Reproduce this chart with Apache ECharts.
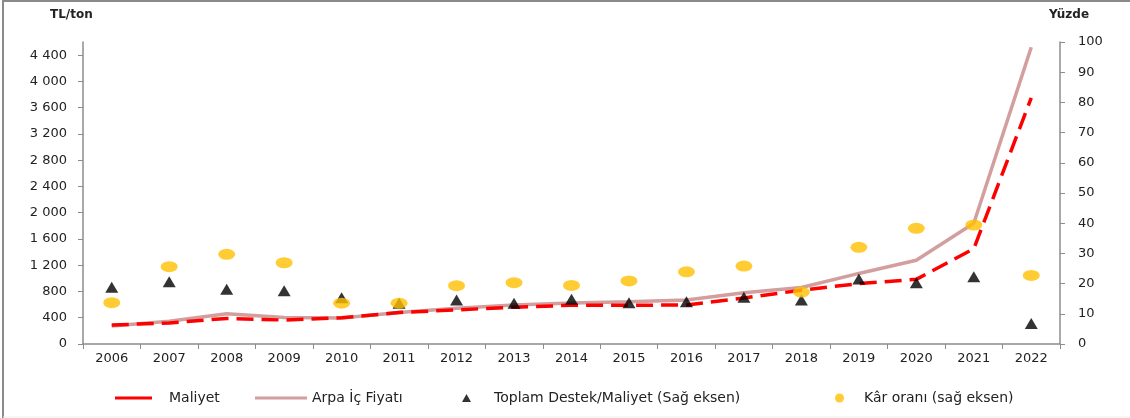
<!DOCTYPE html>
<html>
<head>
<meta charset="utf-8">
<script src="https://cdn.jsdelivr.net/npm/echarts@6/dist/echarts.min.js"></script>
<style>
  html, body { margin: 0; padding: 0; background: #fff; }
  #chart { width: 1130px; height: 418px; }
</style>
</head>
<body>
<div id="chart"></div>
<script>
const years = ['2006','2007','2008','2009','2010','2011','2012','2013','2014','2015','2016','2017','2018','2019','2020','2021','2022'];
// TL/ton (sol eksen)
const maliyet = [290, 320, 390, 365, 400, 480, 520, 560, 590, 590, 595, 700, 820, 920, 985, 1450, 3750];
const arpaIcFiyati = [275, 345, 460, 405, 395, 480, 545, 595, 625, 645, 670, 780, 860, 1075, 1275, 1840, 4520];
// yüzde (sağ eksen)
const destekMaliyet = [18.8, 20.6, 18.1, 17.6, 15.3, 13.5, 14.6, 13.5, 14.8, 13.7, 14.0, 15.5, 14.6, 21.5, 20.3, 22.3, 6.8];
const karOrani = [13.7, 25.6, 29.7, 26.9, 13.5, 13.5, 19.3, 20.3, 19.4, 20.9, 23.9, 25.8, 17.2, 32.0, 38.3, 39.4, 22.7];

const axisColor = '#8c8c8c';
const labelFont = { fontFamily: 'DejaVu Sans', fontSize: 13, color: '#222' };
const legendFont = { fontFamily: 'DejaVu Sans', fontSize: 14, color: '#222', lineHeight: 16 };

function spaced(v) {
  return String(v).replace(/\B(?=(\d{3})+(?!\d))/g, ' ');
}

function legendAt(left, name, icon, w, h, pad) {
  return {
    left: left, top: 385,
    data: [{ name: name, icon: icon }],
    itemWidth: w, itemHeight: h,
    textStyle: Object.assign({ padding: [0, 0, 0, pad] }, legendFont),
    selectedMode: false
  };
}

const chart = echarts.init(document.getElementById('chart'), null, { renderer: 'canvas' });

chart.setOption({
  animation: false,
  backgroundColor: '#fff',
  grid: { left: 83, right: 70, top: 42, bottom: 74 },
  graphic: [
    { type: 'line', shape: { x1: 3, y1: 0, x2: 3, y2: 418 }, style: { stroke: '#8a8a8a', lineWidth: 2 } },
    { type: 'line', shape: { x1: 3, y1: 1, x2: 1130, y2: 1 }, style: { stroke: '#8a8a8a', lineWidth: 2 } },
    { type: 'line', shape: { x1: 3, y1: 417, x2: 1130, y2: 417 }, style: { stroke: '#eeeeee', lineWidth: 1 } },
    { type: 'text', left: 50, top: 9, style: { text: 'TL/ton', font: 'bold 12px "DejaVu Sans"', fill: '#222' } },
    { type: 'text', left: 1049, top: 9, style: { text: 'Yüzde', font: 'bold 12px "DejaVu Sans"', fill: '#222' } }
  ],
  legend: [
    legendAt(110, 'Maliyet', 'rect', 37, 3, 12),
    legendAt(250, 'Arpa İç Fiyatı', 'rect', 52, 3, 0),
    legendAt(457, 'Toplam Destek/Maliyet (Sağ eksen)', 'triangle', 9, 8, 18),
    legendAt(830, 'Kâr oranı (sağ eksen)', 'circle', 9, 9, 15)
  ],
  xAxis: {
    type: 'category',
    data: years,
    boundaryGap: true,
    axisLine: { lineStyle: { color: axisColor, width: 1.5 } },
    axisTick: { show: true, interval: 0, length: 5, lineStyle: { color: axisColor } },
    axisLabel: Object.assign({ margin: 8, interval: 0 }, labelFont),
    splitLine: { show: false }
  },
  yAxis: [
    {
      type: 'value', min: 0, max: 4600, interval: 400, position: 'left',
      axisLine: { show: true, lineStyle: { color: axisColor, width: 1.5 } },
      axisTick: { show: true, length: 5, lineStyle: { color: axisColor } },
      axisLabel: Object.assign({ margin: 16, showMaxLabel: false, formatter: spaced }, labelFont),
      splitLine: { show: false }
    },
    {
      type: 'value', min: 0, max: 100, interval: 10, position: 'right',
      axisLine: { show: true, lineStyle: { color: axisColor, width: 1.5 } },
      axisTick: { show: true, length: 5, lineStyle: { color: axisColor } },
      axisLabel: Object.assign({ margin: 18 }, labelFont),
      splitLine: { show: false }
    }
  ],
  series: [
    {
      name: 'Arpa İç Fiyatı', type: 'line', yAxisIndex: 0, data: arpaIcFiyati,
      symbol: 'none', itemStyle: { color: '#D39E9E' },
      lineStyle: { color: '#D39E9E', width: 3.5 }, z: 2
    },
    {
      name: 'Maliyet', type: 'line', yAxisIndex: 0, data: maliyet,
      symbol: 'none', itemStyle: { color: '#FF0000' },
      lineStyle: { color: '#FF0000', width: 3.5, type: [17, 8] }, z: 3
    },
    {
      name: 'Toplam Destek/Maliyet (Sağ eksen)', type: 'scatter', yAxisIndex: 1, data: destekMaliyet,
      symbol: 'triangle', symbolSize: [13, 11], itemStyle: { color: '#000' }, z: 4
    },
    {
      name: 'Kâr oranı (sağ eksen)', type: 'scatter', yAxisIndex: 1, data: karOrani,
      symbol: 'circle', symbolSize: [17, 11], itemStyle: { color: '#FFC000' }, z: 5
    }
  ]
});
</script>
</body>
</html>
